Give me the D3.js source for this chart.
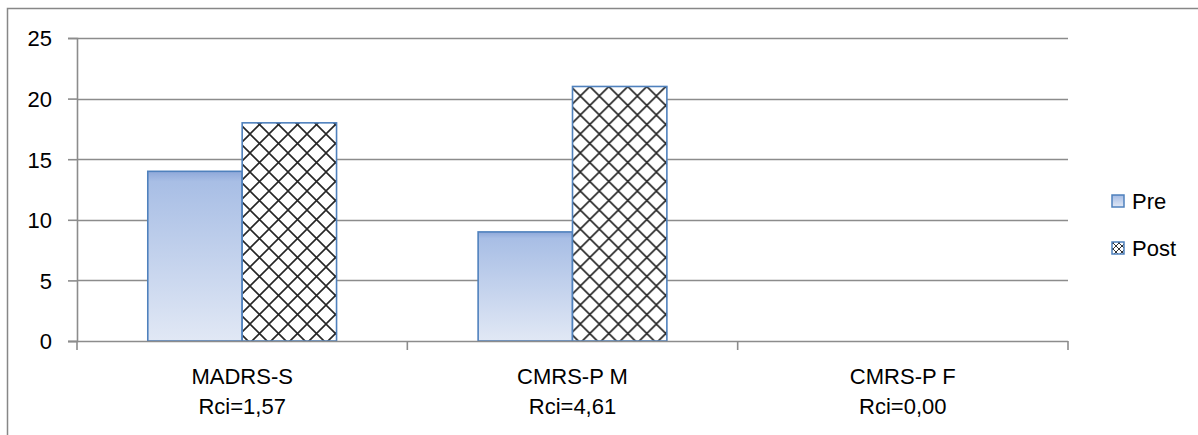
<!DOCTYPE html>
<html><head><meta charset="utf-8">
<script src="https://cdn.jsdelivr.net/npm/d3@7"></script>
<style>html,body{margin:0;padding:0;background:#fff;}svg{display:block;}</style>
</head><body>
<svg id="chart" width="1198" height="435"></svg>
<script>
const categories = [["MADRS-S","Rci=1,57"],["CMRS-P M","Rci=4,61"],["CMRS-P F","Rci=0,00"]];
const seriesNames = ["Pre","Post"];
const preValues = [14, 9, 0];
const postValues = [18, 21, 0];
const yTicks = [0, 5, 10, 15, 20, 25];

(function(){
const svg = d3.select("#chart");
const W = 1198, H = 435;
const font = "'Liberation Sans', Arial, sans-serif";
const pLeft = 77, pRight = 1068, pTop = 38, pBottom = 341;
const gridColor = "#8c8c8c";

const defs = svg.append("defs");
const grad = defs.append("linearGradient").attr("id","preGrad").attr("x1",0).attr("y1",0).attr("x2",0).attr("y2",1);
grad.append("stop").attr("offset","0%").attr("stop-color","#8ea8d9");
grad.append("stop").attr("offset","6%").attr("stop-color","#a8bee5");
grad.append("stop").attr("offset","100%").attr("stop-color","#e1e8f5");
const pat = defs.append("pattern").attr("id","hatch").attr("patternUnits","userSpaceOnUse")
  .attr("width",19).attr("height",19).attr("x",2).attr("y",1);
pat.append("rect").attr("width",19).attr("height",19).attr("fill","#fff");
pat.append("path").attr("d","M0,0L19,19M19,0L0,19M-1,18L1,20M18,-1L20,1M-1,1L1,-1M18,20L20,18")
  .attr("stroke","#262626").attr("stroke-width",1.6).attr("fill","none");
const patL = defs.append("pattern").attr("id","hatchSmall").attr("patternUnits","userSpaceOnUse")
  .attr("width",6).attr("height",6);
patL.append("rect").attr("width",6).attr("height",6).attr("fill","#fff");
patL.append("path").attr("d","M0,0L6,6M6,0L0,6").attr("stroke","#333").attr("stroke-width",1);

// outer chart border
svg.append("path").attr("d",`M7.5,${H+5}V8.5H${W+5}`).attr("fill","none").attr("stroke","#878787").attr("stroke-width",1.5);

const y = d3.scaleLinear().domain([0,25]).range([pBottom, pTop]);
const x0 = d3.scaleBand().domain(d3.range(categories.length)).range([pLeft, pRight]).paddingInner(0).paddingOuter(0);
const x1 = d3.scaleBand().domain(seriesNames).range([0, x0.bandwidth()]).paddingInner(0).paddingOuter(0.75);

// gridlines
svg.append("g").selectAll("line").data(yTicks.filter(t=>t>0)).join("line")
  .attr("x1",pLeft).attr("x2",pRight).attr("y1",d=>Math.round(y(d))+0.5).attr("y2",d=>Math.round(y(d))+0.5)
  .attr("stroke",gridColor).attr("stroke-width",1.6);

// y axis
const yAxis = d3.axisLeft(y).tickValues(yTicks).tickSize(9).tickPadding(16);
const gy = svg.append("g").attr("transform",`translate(${pLeft},0)`).call(yAxis);
gy.select(".domain").attr("stroke",gridColor).attr("stroke-width",1.6);
gy.selectAll(".tick line").attr("stroke",gridColor).attr("stroke-width",1.6);
gy.selectAll(".tick text").attr("font-family",font).attr("font-size",22).attr("fill","#000").attr("dy","0.36em");

// bars
const groups = svg.append("g").selectAll("g").data(categories.map((c,i)=>i)).join("g")
  .attr("transform",i=>`translate(${x0(i)},0)`);
groups.each(function(i){
  const g = d3.select(this);
  const vals = [preValues[i], postValues[i]];
  vals.forEach((v,k)=>{
    if (v <= 0) return;
    g.append("rect")
      .attr("x", x1(seriesNames[k]))
      .attr("y", y(v))
      .attr("width", x1.bandwidth())
      .attr("height", y(0) - y(v))
      .attr("fill", k===0 ? "url(#preGrad)" : "url(#hatch)")
      .attr("stroke","#4f81bd").attr("stroke-width",1.6);
  });
});

// x axis
const xAxisG = svg.append("g").attr("transform",`translate(0,${pBottom})`);
xAxisG.append("line").attr("x1",pLeft-9).attr("x2",pRight).attr("y1",0.5).attr("y2",0.5).attr("stroke",gridColor).attr("stroke-width",1.6);
const bounds = d3.range(categories.length+1).map(i => i < categories.length ? x0(i) : x0(categories.length-1)+x0.bandwidth());
xAxisG.selectAll(".xt").data(bounds).join("line").attr("class","xt")
  .attr("x1",d=>d).attr("x2",d=>d).attr("y1",0).attr("y2",9).attr("stroke",gridColor).attr("stroke-width",1.6);
const labels = svg.append("g").selectAll("text").data(categories).join("text")
  .attr("font-family",font).attr("font-size",22).attr("fill","#000").attr("text-anchor","middle")
  .attr("x",(d,i)=>x0(i)+x0.bandwidth()/2).attr("y",384);
labels.selectAll("tspan").data(d=>d).join("tspan")
  .attr("x",function(){return d3.select(this.parentNode).attr("x");})
  .attr("dy",(d,j)=>j===0?0:30).text(d=>d);

// legend
const legend = svg.append("g");
const legendY = [201, 248];
seriesNames.forEach((n,k)=>{
  legend.append("rect").attr("x",1112).attr("y",legendY[k]-6).attr("width",12).attr("height",12)
    .attr("fill", k===0 ? "url(#preGrad)" : "url(#hatchSmall)").attr("stroke","#4f81bd").attr("stroke-width",1.5);
  legend.append("text").attr("x",1132).attr("y",legendY[k]).attr("dy","0.36em")
    .attr("font-family",font).attr("font-size",22).attr("fill","#000").text(n);
});
})();
</script>
</body></html>
